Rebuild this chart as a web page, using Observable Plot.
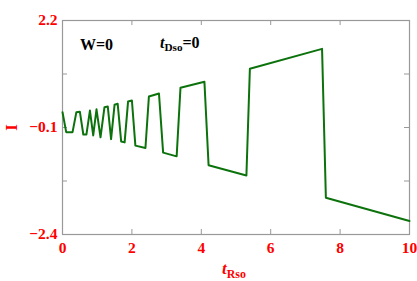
<!DOCTYPE html>
<html>
<head>
<meta charset="utf-8">
<script src="https://cdn.jsdelivr.net/npm/d3@7"></script>
<script src="https://cdn.jsdelivr.net/npm/@observablehq/plot@0.6"></script>
<style>
  html, body { margin: 0; padding: 0; background: #fff; }
  #wrap { position: relative; width: 417px; height: 281px; font-family: "Liberation Serif", "Times New Roman", serif; }
  .lab { position: absolute; font-weight: bold; white-space: nowrap; line-height: 1; }
  .lab sub { font-size: 70%; vertical-align: baseline; position: relative; top: 0.3em; }
</style>
</head>
<body>
<div id="wrap"></div>
<script>
// data
const tRso = [0, 0.107, 0.29, 0.40, 0.50, 0.60, 0.69, 0.79, 0.885, 0.98, 1.095, 1.21, 1.305, 1.40, 1.50, 1.59, 1.69, 1.79, 1.89, 2.0, 2.10, 2.39, 2.49, 2.78, 2.90, 3.29, 3.40, 4.09, 4.21, 5.30, 5.40, 7.48, 7.59, 10.0];
const current = [0.23, -0.20, -0.20, 0.23, 0.24, -0.25, -0.25, 0.265, -0.27, 0.29, -0.31, 0.336, 0.35, -0.35, 0.388, 0.41, -0.40, -0.42, 0.46, 0.48, -0.49, -0.54, 0.566, 0.63, -0.64, -0.72, 0.753, 0.882, -0.91, -1.13, 1.162, 1.59, -1.61, -2.11];
const xTicks = [0, 2, 4, 6, 8, 10];
const yTicks = [2.2, 1.05, -0.1, -1.25, -2.4];
const yLabels = [2.2, -0.1, -2.4];

const W = 417, H = 281;
const mL = 62, mR = 8, mT = 20, mB = 47;
const pw = W - mL - mR, ph = H - mT - mB;
const tick = 5;
const data = tRso.map((x, i) => ({x, y: current[i]}));
const fmt = d => d < 0 ? "\u2212" + Math.abs(d) : String(d);

const chart = Plot.plot({
  width: W, height: H,
  marginLeft: mL, marginRight: mR, marginTop: mT, marginBottom: mB,
  style: {fontFamily: '"Liberation Serif", "Times New Roman", serif', background: "#fff"},
  x: {domain: [0, 10]},
  y: {domain: [-2.4, 2.2]},
  marks: [
    Plot.frame({stroke: "#999", strokeWidth: 1.2}),
    Plot.tickX(xTicks, {x: d => d, stroke: "#999", insetTop: ph - tick}),
    Plot.tickX(xTicks, {x: d => d, stroke: "#999", insetBottom: ph - tick}),
    Plot.tickY(yTicks, {y: d => d, stroke: "#999", insetRight: pw - tick}),
    Plot.tickY(yTicks, {y: d => d, stroke: "#999", insetLeft: pw - tick}),
    Plot.axisX(xTicks, {tickSize: 0, tickPadding: 7, label: null, fill: "#f00", fontSize: 15.5, fontWeight: "bold", tickFormat: fmt}),
    Plot.axisY(yLabels, {tickSize: 0, tickPadding: 5, label: null, fill: "#f00", fontSize: 15.5, fontWeight: "bold", tickFormat: fmt}),
    Plot.line(data, {x: "x", y: "y", stroke: "#0c720c", strokeWidth: 2})
  ]
});

const wrap = document.getElementById("wrap");
wrap.appendChild(chart);

function addLabel(html, left, top, color, size, extra) {
  const d = document.createElement("div");
  d.className = "lab";
  d.innerHTML = html;
  d.style.left = left + "px";
  d.style.top = top + "px";
  d.style.color = color;
  d.style.fontSize = size + "px";
  if (extra) Object.assign(d.style, extra);
  wrap.appendChild(d);
}
addLabel("W=0", 80, 37, "#000", 16);
addLabel("<i>t</i><sub>Dso</sub>=0", 160, 35, "#000", 16);
addLabel("<i>t</i><sub>Rso</sub>", 222, 260, "#f00", 17);
addLabel("I", 8, 119, "#f00", 17, {transform: "rotate(-90deg)", transformOrigin: "center"});
</script>
</body>
</html>
